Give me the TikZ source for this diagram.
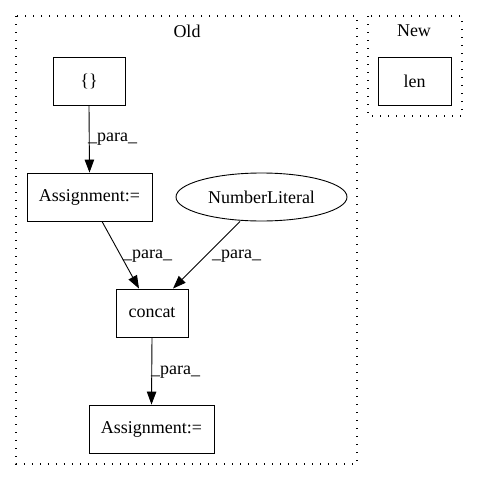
\documentclass[tikz,border=0pt]{standalone}
\usepackage{fontspec}
\setmainfont{Liberation Serif}
\usetikzlibrary{shapes.geometric,arrows.meta}
\begin{document}
\begin{tikzpicture}[x=1pt,y=-1pt,
  every node/.style={font=\fontsize{18}{21}\selectfont},
  box/.style={draw,line width=0.9pt,rectangle,inner sep=0pt},
  cluster/.style={draw,line width=1.3pt,dash pattern=on 1.3pt off 6.7pt},
  edge/.style={draw,line width=0.9pt,-{Triangle[length=13pt,width=9.5pt]}},
  lbl/.style={font=\fontsize{18}{21}\selectfont,inner sep=0pt}]
\useasboundingbox (0,0) rectangle (477,480);
\draw[cluster] (16,16) rectangle (357,464);
\draw[cluster] (368,16) rectangle (462,116);
\node[lbl] (oldlbl) at (187,31) {Old};
\node[lbl] (newlbl) at (414,31) {New};
\node[box,minimum width=72pt,minimum height=48pt] (braces) at (89,81) {\{\}};
\node[box,minimum width=73pt,minimum height=48pt] (len) at (414.5,81) {len};
\node[box,minimum width=125pt,minimum height=48pt] (as1) at (89.5,197) {Assignment:=};
\node[draw,line width=0.9pt,ellipse,minimum width=171pt,minimum height=48pt,inner sep=0pt] (num) at (261.5,197) {NumberLiteral};
\node[box,minimum width=72pt,minimum height=48pt] (concat) at (152,313) {concat};
\node[box,minimum width=125pt,minimum height=48pt] (as2) at (151.5,429) {Assignment:=};
\draw[edge] (braces.south) -- (as1.north);
\draw[edge] (as1.south -| 102,0) -- (concat.north -| 139,0);
\draw[edge] (num.south -| 240,0) -- (concat.north -| 173,0);
\draw[edge] (concat.south) -- (as2.north);
\node[lbl,anchor=west] (l1) at (88,139) {\_para\_};
\node[lbl,anchor=west] (l2) at (123,256) {\_para\_};
\node[lbl,anchor=west] (l3) at (212,256) {\_para\_};
\node[lbl,anchor=west] (l4) at (151,372) {\_para\_};
\end{tikzpicture}
\end{document}
